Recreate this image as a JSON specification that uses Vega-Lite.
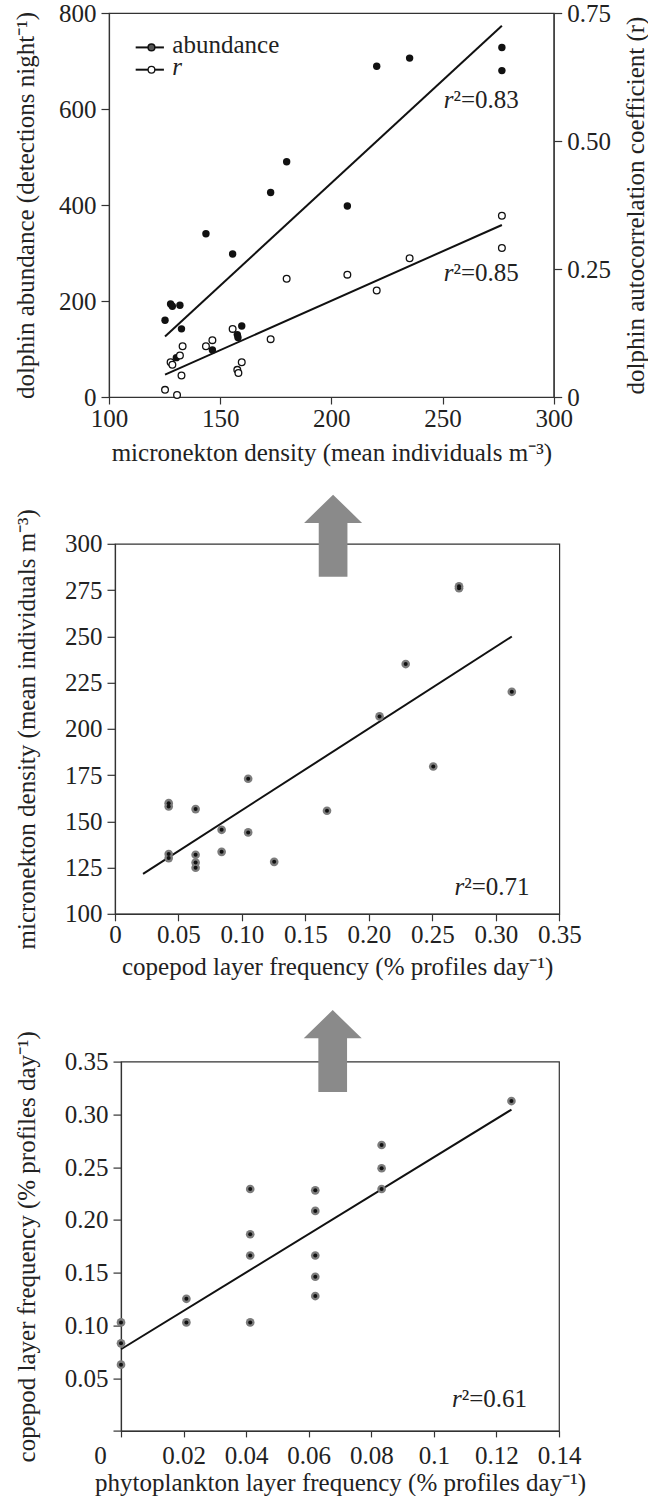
{
  "$schema": "https://vega.github.io/schema/vega-lite/v6.json",
  "background": "white",
  "padding": {"left": 13, "top": 0, "right": 0, "bottom": 0},
  "autosize": {"type": "pad"},
  "spacing": 27.8,
  "datasets": {
    "abund": [
      {"density": 125.2, "abundance": 160}, {"density": 127.7, "abundance": 194}, {"density": 128.5, "abundance": 189},
      {"density": 131.9, "abundance": 191}, {"density": 132.6, "abundance": 142}, {"density": 130.3, "abundance": 82},
      {"density": 143.6, "abundance": 340}, {"density": 146.5, "abundance": 98}, {"density": 155.6, "abundance": 298},
      {"density": 157.7, "abundance": 130}, {"density": 158.0, "abundance": 124}, {"density": 159.7, "abundance": 148},
      {"density": 172.7, "abundance": 426}, {"density": 179.9, "abundance": 490}, {"density": 207.2, "abundance": 398},
      {"density": 220.4, "abundance": 689}, {"density": 235.2, "abundance": 706}, {"density": 276.7, "abundance": 728},
      {"density": 276.7, "abundance": 680}
    ],
    "abundLine": [{"density": 125.2, "abundance": 126}, {"density": 276.7, "abundance": 773.5}],
    "rvals": [
      {"density": 125.2, "r": 0.014}, {"density": 127.7, "r": 0.068}, {"density": 128.5, "r": 0.063}, {"density": 130.6, "r": 0.004},
      {"density": 131.9, "r": 0.081}, {"density": 132.6, "r": 0.042}, {"density": 133.1, "r": 0.099}, {"density": 143.6, "r": 0.099},
      {"density": 146.5, "r": 0.111}, {"density": 155.6, "r": 0.133}, {"density": 157.7, "r": 0.053}, {"density": 158.2, "r": 0.047},
      {"density": 159.7, "r": 0.068}, {"density": 172.7, "r": 0.113}, {"density": 179.9, "r": 0.231}, {"density": 207.2, "r": 0.239},
      {"density": 220.4, "r": 0.208}, {"density": 235.2, "r": 0.271}, {"density": 276.7, "r": 0.354}, {"density": 276.7, "r": 0.291}
    ],
    "rLine": [{"density": 125.2, "r": 0.0436}, {"density": 276.7, "r": 0.336}],
    "p2": [
      {"copepod": 0.271, "micronekton": 277}, {"copepod": 0.271, "micronekton": 276}, {"copepod": 0.229, "micronekton": 235},
      {"copepod": 0.3126, "micronekton": 220}, {"copepod": 0.2084, "micronekton": 206.7}, {"copepod": 0.2507, "micronekton": 179.6},
      {"copepod": 0.1049, "micronekton": 173}, {"copepod": 0.0423, "micronekton": 159.8}, {"copepod": 0.0423, "micronekton": 158},
      {"copepod": 0.0635, "micronekton": 156.6}, {"copepod": 0.167, "micronekton": 155.7}, {"copepod": 0.084, "micronekton": 145.4},
      {"copepod": 0.1049, "micronekton": 144}, {"copepod": 0.084, "micronekton": 133.5}, {"copepod": 0.0423, "micronekton": 132.3},
      {"copepod": 0.0423, "micronekton": 130.1}, {"copepod": 0.0635, "micronekton": 131.9}, {"copepod": 0.0635, "micronekton": 127.7},
      {"copepod": 0.0635, "micronekton": 124.9}, {"copepod": 0.1254, "micronekton": 128.1}
    ],
    "p2Line": [{"copepod": 0.0221, "micronekton": 121.6}, {"copepod": 0.3126, "micronekton": 249.9}],
    "p3": [
      {"phyto": 0, "copepod": 0.1028}, {"phyto": 0, "copepod": 0.083}, {"phyto": 0, "copepod": 0.0628},
      {"phyto": 0.0209, "copepod": 0.1252}, {"phyto": 0.0209, "copepod": 0.1028},
      {"phyto": 0.0413, "copepod": 0.2293}, {"phyto": 0.0413, "copepod": 0.1864}, {"phyto": 0.0413, "copepod": 0.1662}, {"phyto": 0.0413, "copepod": 0.1028},
      {"phyto": 0.0621, "copepod": 0.228}, {"phyto": 0.0621, "copepod": 0.2085}, {"phyto": 0.0621, "copepod": 0.1662}, {"phyto": 0.0621, "copepod": 0.1461}, {"phyto": 0.0621, "copepod": 0.1278},
      {"phyto": 0.0833, "copepod": 0.271}, {"phyto": 0.0833, "copepod": 0.2489}, {"phyto": 0.0833, "copepod": 0.2293},
      {"phyto": 0.1248, "copepod": 0.3126}
    ],
    "p3Line": [{"phyto": 0, "copepod": 0.0774}, {"phyto": 0.1248, "copepod": 0.3045}],
    "none": []
  },
  "vconcat": [
    {
      "bounds": "flush",
      "spacing": 0,
      "hconcat": [
        {"width": 1, "height": 1, "data": {"name": "none"}, "mark": "point", "view": {"stroke": null}},
        {
          "width": 444.7,
          "height": 384,
          "layer": [
            {
              "layer": [
                {
                  "data": {"name": "abundLine"},
                  "mark": {"type": "line", "color": "#111", "strokeWidth": 2},
                  "encoding": {
                    "x": {"field": "density", "type": "quantitative", "scale": {"domain": [100, 300], "nice": false, "zero": false}},
                    "y": {"field": "abundance", "type": "quantitative", "scale": {"domain": [0, 800], "nice": false}}
                  }
                },
                {
                  "data": {"name": "abund"},
                  "mark": {"type": "point", "filled": true, "size": 55, "color": "#111", "opacity": 1},
                  "encoding": {
                    "x": {"field": "density", "type": "quantitative", "scale": {"domain": [100, 300], "nice": false, "zero": false},
                          "axis": {"values": [100, 150, 200, 250, 300], "title": "micronekton density (mean individuals m⁻³)", "titlePadding": 9.4}},
                    "y": {"field": "abundance", "type": "quantitative", "scale": {"domain": [0, 800], "nice": false},
                          "axis": {"values": [0, 200, 400, 600, 800], "title": "dolphin abundance (detections night⁻¹)", "titleX": -75.3}}
                  }
                },
                {
                  "data": {"values": [{}]},
                  "mark": {"type": "rule", "color": "#111", "strokeWidth": 2},
                  "encoding": {
                    "x": {"datum": 112, "type": "quantitative", "scale": {"domain": [100, 300], "nice": false, "zero": false}},
                    "x2": {"datum": 124.7},
                    "y": {"datum": 728.3, "type": "quantitative", "scale": {"domain": [0, 800], "nice": false}}
                  }
                },
                {
                  "data": {"values": [{}]},
                  "mark": {"type": "rule", "color": "#111", "strokeWidth": 2},
                  "encoding": {
                    "x": {"datum": 112, "type": "quantitative", "scale": {"domain": [100, 300], "nice": false, "zero": false}},
                    "x2": {"datum": 124.7},
                    "y": {"datum": 681.9, "type": "quantitative", "scale": {"domain": [0, 800], "nice": false}}
                  }
                },
                {
                  "data": {"values": [{}]},
                  "mark": {"type": "point", "filled": true, "size": 45, "fill": "#555", "stroke": "#111", "strokeWidth": 1.5, "opacity": 1},
                  "encoding": {
                    "x": {"datum": 119.1, "type": "quantitative", "scale": {"domain": [100, 300], "nice": false, "zero": false}},
                    "y": {"datum": 728.3, "type": "quantitative", "scale": {"domain": [0, 800], "nice": false}}
                  }
                },
                {
                  "data": {"values": [{}]},
                  "mark": {"type": "point", "filled": true, "size": 45, "fill": "white", "stroke": "#111", "strokeWidth": 1.3, "opacity": 1},
                  "encoding": {
                    "x": {"datum": 119.1, "type": "quantitative", "scale": {"domain": [100, 300], "nice": false, "zero": false}},
                    "y": {"datum": 681.9, "type": "quantitative", "scale": {"domain": [0, 800], "nice": false}}
                  }
                },
                {
                  "data": {"values": [{}]},
                  "mark": {"type": "text", "text": "abundance", "align": "left", "baseline": "alphabetic"},
                  "encoding": {
                    "x": {"datum": 128.5, "type": "quantitative", "scale": {"domain": [100, 300], "nice": false, "zero": false}},
                    "y": {"datum": 716.7, "type": "quantitative", "scale": {"domain": [0, 800], "nice": false}}
                  }
                },
                {
                  "data": {"values": [{}]},
                  "mark": {"type": "text", "text": "r", "fontStyle": "italic", "align": "left", "baseline": "alphabetic"},
                  "encoding": {
                    "x": {"datum": 128.5, "type": "quantitative", "scale": {"domain": [100, 300], "nice": false, "zero": false}},
                    "y": {"datum": 671.5, "type": "quantitative", "scale": {"domain": [0, 800], "nice": false}}
                  }
                },
                {
                  "data": {"values": [{}]},
                  "mark": {"type": "text", "text": "r", "fontStyle": "italic", "align": "right", "baseline": "alphabetic"},
                  "encoding": {
                    "x": {"datum": 254.9, "type": "quantitative", "scale": {"domain": [100, 300], "nice": false, "zero": false}},
                    "y": {"datum": 602, "type": "quantitative", "scale": {"domain": [0, 800], "nice": false}}
                  }
                },
                {
                  "data": {"values": [{}]},
                  "mark": {"type": "text", "text": "²=0.83", "align": "left", "baseline": "alphabetic"},
                  "encoding": {
                    "x": {"datum": 254.9, "type": "quantitative", "scale": {"domain": [100, 300], "nice": false, "zero": false}},
                    "y": {"datum": 602, "type": "quantitative", "scale": {"domain": [0, 800], "nice": false}}
                  }
                },
                {
                  "data": {"values": [{}]},
                  "mark": {"type": "text", "text": "r", "fontStyle": "italic", "align": "right", "baseline": "alphabetic"},
                  "encoding": {
                    "x": {"datum": 254.9, "type": "quantitative", "scale": {"domain": [100, 300], "nice": false, "zero": false}},
                    "y": {"datum": 240.8, "type": "quantitative", "scale": {"domain": [0, 800], "nice": false}}
                  }
                },
                {
                  "data": {"values": [{}]},
                  "mark": {"type": "text", "text": "²=0.85", "align": "left", "baseline": "alphabetic"},
                  "encoding": {
                    "x": {"datum": 254.9, "type": "quantitative", "scale": {"domain": [100, 300], "nice": false, "zero": false}},
                    "y": {"datum": 240.8, "type": "quantitative", "scale": {"domain": [0, 800], "nice": false}}
                  }
                }
              ]
            },
            {
              "layer": [
                {
                  "data": {"name": "rLine"},
                  "mark": {"type": "line", "color": "#111", "strokeWidth": 2},
                  "encoding": {
                    "x": {"field": "density", "type": "quantitative", "scale": {"domain": [100, 300], "nice": false, "zero": false}},
                    "y": {"field": "r", "type": "quantitative", "scale": {"domain": [0, 0.75], "nice": false},
                          "axis": {"orient": "right", "values": [0, 0.25, 0.5, 0.75], "labelExpr": "datum.value === 0 ? '0' : format(datum.value, '.2f')",
                                   "title": "dolphin autocorrelation coefficient (r)", "titleX": 90}}
                  }
                },
                {
                  "data": {"name": "rvals"},
                  "mark": {"type": "point", "filled": true, "fill": "white", "stroke": "#111", "strokeWidth": 1.3, "size": 45, "opacity": 1},
                  "encoding": {
                    "x": {"field": "density", "type": "quantitative", "scale": {"domain": [100, 300], "nice": false, "zero": false}},
                    "y": {"field": "r", "type": "quantitative", "scale": {"domain": [0, 0.75], "nice": false},
                          "axis": {"orient": "right", "values": [0, 0.25, 0.5, 0.75], "labelExpr": "datum.value === 0 ? '0' : format(datum.value, '.2f')",
                                   "title": "dolphin autocorrelation coefficient (r)", "titleX": 90}}
                  }
                }
              ]
            }
          ],
          "resolve": {"scale": {"y": "independent"}}
        }
      ]
    },
    {
      "bounds": "flush",
      "spacing": 0,
      "hconcat": [
        {"width": 6.3, "height": 1, "data": {"name": "none"}, "mark": "point", "view": {"stroke": null}},
        {
          "width": 444.3,
          "height": 370,
          "layer": [
            {
              "data": {"name": "p2Line"},
              "mark": {"type": "line", "color": "#111", "strokeWidth": 2},
              "encoding": {
                "x": {"field": "copepod", "type": "quantitative", "scale": {"domain": [0, 0.35], "nice": false}},
                "y": {"field": "micronekton", "type": "quantitative", "scale": {"domain": [100, 300], "nice": false, "zero": false}}
              }
            },
            {
              "data": {"name": "p2"},
              "mark": {"type": "point", "filled": true, "size": 75, "color": "#7c7c7c", "opacity": 1},
              "encoding": {
                "x": {"field": "copepod", "type": "quantitative", "scale": {"domain": [0, 0.35], "nice": false},
                      "axis": {"values": [0, 0.05, 0.1, 0.15, 0.2, 0.25, 0.3, 0.35], "labelExpr": "datum.value === 0 ? '0' : format(datum.value, '.2f')",
                               "title": "copepod layer frequency (% profiles day⁻¹)", "titlePadding": 7}},
                "y": {"field": "micronekton", "type": "quantitative", "scale": {"domain": [100, 300], "nice": false, "zero": false},
                      "axis": {"values": [100, 125, 150, 175, 200, 225, 250, 275, 300], "title": "micronekton density (mean individuals m⁻³)", "titleX": -80.6}}
              }
            },
            {
              "data": {"name": "p2"},
              "mark": {"type": "point", "filled": true, "size": 16, "color": "#111", "opacity": 1},
              "encoding": {
                "x": {"field": "copepod", "type": "quantitative", "scale": {"domain": [0, 0.35], "nice": false}},
                "y": {"field": "micronekton", "type": "quantitative", "scale": {"domain": [100, 300], "nice": false, "zero": false}}
              }
            },
            {
              "data": {"values": [{}]},
              "mark": {"type": "text", "text": "r", "fontStyle": "italic", "align": "right", "baseline": "alphabetic"},
              "encoding": {
                "x": {"datum": 0.2751, "type": "quantitative", "scale": {"domain": [0, 0.35], "nice": false}},
                "y": {"datum": 110.3, "type": "quantitative", "scale": {"domain": [100, 300], "nice": false, "zero": false}}
              }
            },
            {
              "data": {"values": [{}]},
              "mark": {"type": "text", "text": "²=0.71", "align": "left", "baseline": "alphabetic"},
              "encoding": {
                "x": {"datum": 0.2751, "type": "quantitative", "scale": {"domain": [0, 0.35], "nice": false}},
                "y": {"datum": 110.3, "type": "quantitative", "scale": {"domain": [100, 300], "nice": false, "zero": false}}
              }
            },
            {
              "data": {"values": [{}]},
              "mark": {"type": "point", "shape": "M-0.35,1L-0.35,-0.31L-0.707,-0.31L0,-1L0.707,-0.31L0.35,-0.31L0.35,1Z", "filled": true, "size": 6724, "color": "#8a8a8a", "strokeWidth": 0, "opacity": 1},
              "encoding": {
                "x": {"datum": 0.1718, "type": "quantitative", "scale": {"domain": [0, 0.35], "nice": false}},
                "y": {"datum": 304.4, "type": "quantitative", "scale": {"domain": [100, 300], "nice": false, "zero": false}}
              }
            }
          ]
        }
      ]
    },
    {
      "bounds": "flush",
      "spacing": 0,
      "hconcat": [
        {"width": 12.7, "height": 1, "data": {"name": "none"}, "mark": "point", "view": {"stroke": null}},
        {
          "width": 438,
          "height": 369.3,
          "layer": [
            {
              "data": {"name": "p3Line"},
              "mark": {"type": "line", "color": "#111", "strokeWidth": 2},
              "encoding": {
                "x": {"field": "phyto", "type": "quantitative", "scale": {"domain": [0, 0.14], "nice": false}},
                "y": {"field": "copepod", "type": "quantitative", "scale": {"domain": [0, 0.35], "nice": false}}
              }
            },
            {
              "data": {"name": "p3"},
              "mark": {"type": "point", "filled": true, "size": 75, "color": "#7c7c7c", "opacity": 1},
              "encoding": {
                "x": {"field": "phyto", "type": "quantitative", "scale": {"domain": [0, 0.14], "nice": false},
                      "axis": {"values": [0, 0.02, 0.04, 0.06, 0.08, 0.1, 0.12, 0.14], "labelExpr": "format(datum.value, '~g')",
                               "labelOffset": {"condition": {"test": "datum.value === 0", "value": -21}, "value": 0},
                               "tickSize": 6, "labelPadding": 6.3,
                               "title": "phytoplankton layer frequency (% profiles day⁻¹)", "titlePadding": 2.2}},
                "y": {"field": "copepod", "type": "quantitative", "scale": {"domain": [0, 0.35], "nice": false},
                      "axis": {"values": [0, 0.05, 0.1, 0.15, 0.2, 0.25, 0.3, 0.35], "labelExpr": "datum.value === 0 ? '' : format(datum.value, '.2f')",
                               "title": "copepod layer frequency (% profiles day⁻¹)", "titleX": -87}}
              }
            },
            {
              "data": {"name": "p3"},
              "mark": {"type": "point", "filled": true, "size": 16, "color": "#111", "opacity": 1},
              "encoding": {
                "x": {"field": "phyto", "type": "quantitative", "scale": {"domain": [0, 0.14], "nice": false}},
                "y": {"field": "copepod", "type": "quantitative", "scale": {"domain": [0, 0.35], "nice": false}}
              }
            },
            {
              "data": {"values": [{}]},
              "mark": {"type": "text", "text": "r", "fontStyle": "italic", "align": "right", "baseline": "alphabetic"},
              "encoding": {
                "x": {"datum": 0.1089, "type": "quantitative", "scale": {"domain": [0, 0.14], "nice": false}},
                "y": {"datum": 0.0222, "type": "quantitative", "scale": {"domain": [0, 0.35], "nice": false}}
              }
            },
            {
              "data": {"values": [{}]},
              "mark": {"type": "text", "text": "²=0.61", "align": "left", "baseline": "alphabetic"},
              "encoding": {
                "x": {"datum": 0.1089, "type": "quantitative", "scale": {"domain": [0, 0.14], "nice": false}},
                "y": {"datum": 0.0222, "type": "quantitative", "scale": {"domain": [0, 0.35], "nice": false}}
              }
            },
            {
              "data": {"values": [{}]},
              "mark": {"type": "point", "shape": "M-0.35,1L-0.35,-0.31L-0.707,-0.31L0,-1L0.707,-0.31L0.35,-0.31L0.35,1Z", "filled": true, "size": 6724, "color": "#8a8a8a", "strokeWidth": 0, "opacity": 1},
              "encoding": {
                "x": {"datum": 0.06767, "type": "quantitative", "scale": {"domain": [0, 0.14], "nice": false}},
                "y": {"datum": 0.36, "type": "quantitative", "scale": {"domain": [0, 0.35], "nice": false}}
              }
            }
          ]
        }
      ]
    }
  ],
  "config": {
    "font": "Liberation Serif",
    "view": {"stroke": "#333", "strokeWidth": 1.2},
    "axis": {
      "labelFont": "Liberation Serif", "titleFont": "Liberation Serif",
      "labelFontSize": 25, "titleFontSize": 25, "titleFontWeight": "normal",
      "labelColor": "#222", "titleColor": "#222",
      "domainColor": "#333", "tickColor": "#333", "domainWidth": 1.2, "tickWidth": 1.2,
      "grid": false, "labelFlush": false, "labelOverlap": false, "labelBound": false
    },
    "axisX": {"tickSize": 7, "labelPadding": 2},
    "axisY": {"tickSize": 8, "labelPadding": 5, "titleAngle": 270, "titleBaseline": "alphabetic"},
    "text": {"font": "Liberation Serif", "fontSize": 25, "color": "#222"}
  }
}
